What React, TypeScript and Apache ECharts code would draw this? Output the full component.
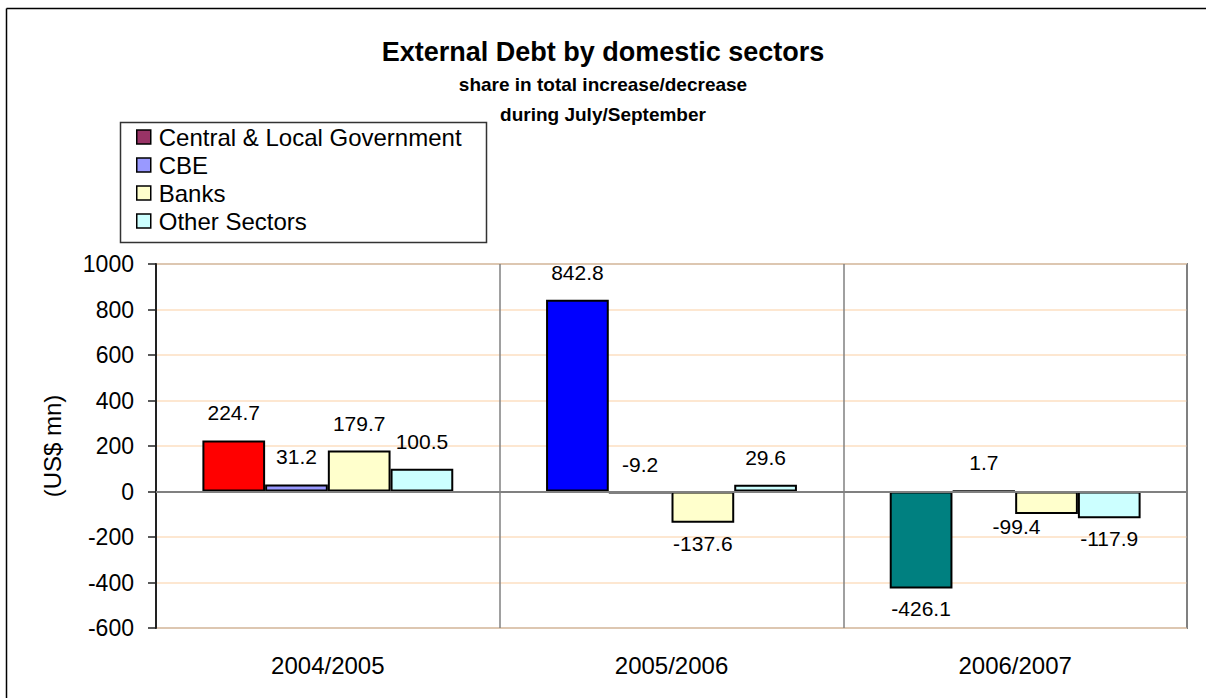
import React, { useEffect, useRef } from "react";
import * as echarts from "echarts";

const categories = ["2004/2005", "2005/2006", "2006/2007"];
const seriesNames = ["Central & Local Government", "CBE", "Banks", "Other Sectors"];
const govValues = [224.7, 842.8, -426.1];
const govPointColors = ["#FF0000", "#0000FF", "#008080"];
const cbeValues = [31.2, -9.2, 1.7];
const banksValues = [179.7, -137.6, -99.4];
const otherValues = [100.5, 29.6, -117.9];
const seriesColors = ["#993366", "#9999FF", "#FFFFCC", "#CCFFFF"];
const yTicks = { min: -600, max: 1000, interval: 200 };

const FONT = "'Liberation Sans', Arial, sans-serif";

type LabelOverride = { position?: string; distance?: number; offset?: number[] };

function buildData(values: number[], colors?: string[], overrides: Record<number, LabelOverride> = {}) {
  return values.map((v, i) => {
    const o = overrides[i] || {};
    const item: any = {
      value: v,
      label: {
        position: o.position || (v >= 0 ? "top" : "bottom"),
        distance: o.distance !== undefined ? o.distance : v >= 0 ? 17 : 10,
        offset: o.offset || [0, 0],
      },
    };
    if (colors) item.itemStyle = { color: colors[i] };
    return item;
  });
}

export default function App() {
  const ref = useRef<HTMLDivElement>(null);

  useEffect(() => {
    document.body.style.margin = "0";
    document.body.style.overflow = "hidden";
    document.documentElement.style.overflow = "hidden";
    const chart = echarts.init(ref.current!, null, { renderer: "svg" });
    const labelCommon = {
      show: true,
      fontSize: 21,
      color: "#000",
      fontFamily: FONT,
      formatter: (p: any) => Number(p.value).toFixed(1),
    };
    const barCommon = {
      type: "bar",
      barGap: "0%",
      barCategoryGap: "27%",
      itemStyle: { borderColor: "#000", borderWidth: 2 },
    };
    const datasets = [
      buildData(govValues, govPointColors),
      buildData(cbeValues, undefined, { 1: { position: "top", distance: 17 } }),
      buildData(banksValues, undefined, { 2: { position: "bottom", distance: 2, offset: [-30, 0] } }),
      buildData(otherValues),
    ];
    const series: any[] = datasets.map((d, i) => ({
      ...barCommon,
      name: seriesNames[i],
      itemStyle: { ...barCommon.itemStyle, color: seriesColors[i] },
      label: labelCommon,
      data: d,
      z: 3,
    }));
    series[0].markLine = {
      silent: true,
      symbol: "none",
      label: { show: false },
      lineStyle: { color: "#808080", width: 2, type: "solid" },
      data: [{ yAxis: 0 }],
      z: 5,
    };

    chart.setOption({
      animation: false,
      backgroundColor: "#fff",
      textStyle: { fontFamily: FONT },
      title: {
        text: "External Debt by domestic sectors",
        subtext: "share in total increase/decrease\nduring July/September",
        left: "center",
        top: 32,
        itemGap: 2,
        textStyle: { fontSize: 27, fontWeight: "bold", color: "#000", fontFamily: FONT, lineHeight: 30 },
        subtextStyle: { fontSize: 19, fontWeight: "bold", color: "#000", fontFamily: FONT, lineHeight: 30 },
      },
      legend: {
        orient: "vertical",
        left: 136,
        top: 125,
        padding: 0,
        itemGap: 4,
        itemWidth: 14,
        itemHeight: 14,
        icon: "rect",
        data: seriesNames,
        textStyle: { fontSize: 24, color: "#000", fontFamily: FONT, padding: [0, 0, 0, 3] },
        itemStyle: { borderColor: "#000", borderWidth: 1.5 },
      },
      graphic: [
        {
          type: "line",
          shape: { x1: 6.5, y1: 8.5, x2: 1206, y2: 8.5 },
          style: { stroke: "#000", lineWidth: 1.5 },
          silent: true,
          z: -1,
        },
        {
          type: "line",
          shape: { x1: 6.5, y1: 8.5, x2: 6.5, y2: 698 },
          style: { stroke: "#000", lineWidth: 1.5 },
          silent: true,
          z: -1,
        },
        {
          type: "rect",
          shape: { x: 120.5, y: 122.5, width: 366, height: 120 },
          style: { fill: "#fff", stroke: "#333", lineWidth: 1.5 },
          silent: true,
          z: 0,
        },
        {
          type: "rect",
          shape: { x: 1192, y: 10, width: 14, height: 688 },
          style: { fill: "#fff" },
          silent: true,
          z: 100,
        },
      ],
      grid: {
        left: 156,
        right: 19,
        top: 264,
        bottom: 70,
        show: true,
        borderColor: "#808080",
        borderWidth: 2,
        backgroundColor: "transparent",
        containLabel: false,
      },
      xAxis: {
        type: "category",
        data: categories,
        position: "bottom",
        axisLine: { show: false, onZero: false },
        axisTick: { show: false },
        axisLabel: { fontSize: 24, color: "#000", margin: 25, fontFamily: FONT },
        splitLine: { show: true, lineStyle: { color: "#808080", width: 1.5 } },
      },
      yAxis: {
        type: "value",
        min: yTicks.min,
        max: yTicks.max,
        interval: yTicks.interval,
        name: "(US$ mn)",
        nameLocation: "middle",
        nameRotate: 90,
        nameGap: 92,
        nameTextStyle: { fontSize: 24, color: "#000", fontFamily: FONT },
        axisLine: { show: true, lineStyle: { color: "#222", width: 2 } },
        axisTick: { show: true, length: 8, lineStyle: { color: "#222", width: 1.5 } },
        axisLabel: {
          fontSize: 23,
          color: "#000",
          margin: 22,
          fontFamily: FONT,
          formatter: (v: number) => String(v),
        },
        splitLine: { show: true, lineStyle: { color: "#FCDFC2", width: 1.5 } },
      },
      series,
    });
    return () => chart.dispose();
  }, []);

  return <div ref={ref} style={{ position: "fixed", left: 0, top: 0, width: 1206, height: 698 }} />;
}
